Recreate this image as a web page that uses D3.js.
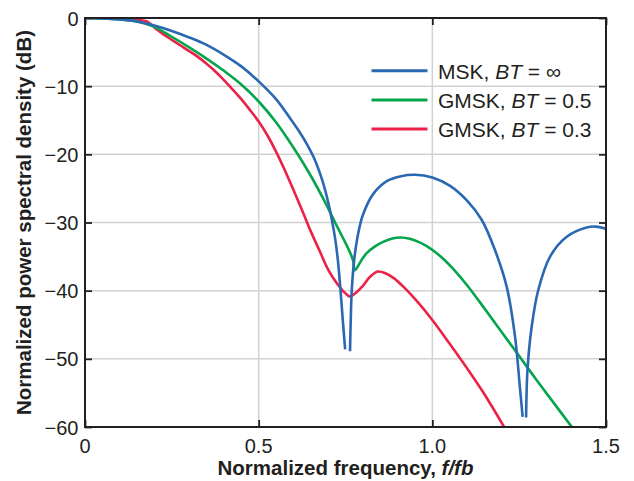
<!DOCTYPE html>
<head>
    <meta charset="UTF-8">
    <style>
    body {
        margin: 0;
        background: white;
    }

    text {
        font-family: "Liberation Sans", Arial, Helvetica, sans-serif;
        fill: #231f20;
    }

    .grid line {
        stroke: #d2d2d2;
        stroke-width: 1.5;
    }

    .curve {
        fill: none;
        stroke-width: 2.6;
    }
    </style>
</head>
<svg width="634" height="481"></svg>
<script src="https://d3js.org/d3.v7.min.js"></script>
<script>
// values (f/fb, dB); null = null of the spectrum
var mskF = [0, 0.05, 0.1, 0.15, 0.2, 0.25, 0.3, 0.35, 0.4, 0.45, 0.5, 0.55, 0.6, 0.62, 0.64, 0.66, 0.68, 0.69, 0.7, 0.71, 0.72, 0.728, 0.735, 0.742, 0.749,
    0.756, 0.763, 0.765, 0.768, 0.775, 0.785, 0.8, 0.83, 0.87, 0.91, 0.95, 1.0, 1.05, 1.1, 1.142, 1.18, 1.214, 1.238, 1.252, 1.26,
    1.265, 1.27, 1.274, 1.286, 1.305, 1.339, 1.387, 1.444, 1.47, 1.5];
var mskDb = [0, -0.05, -0.2, -0.5, -1.1, -1.9, -2.85, -3.95, -5.4, -7.1, -9.3, -11.9, -15.4, -16.9, -18.6, -20.6, -23.3, -25.0, -27.0, -29.4, -32.3, -35.5, -39.5, -44.2, -48.6,
    null, -48.9, -44.5, -40, -35.5, -32, -28.9, -25.8, -23.9, -23.2, -23.0, -23.4, -24.6, -26.8, -29.6, -34, -39.4, -46.7, -54.1, -58.5,
    null, -58.6, -51.6, -45.3, -39.9, -35, -32.1, -30.75, -30.6, -30.9];

var gmsk5F = [0, 0.05, 0.1, 0.15, 0.2, 0.25, 0.3, 0.35, 0.4, 0.45, 0.5, 0.55, 0.6, 0.645, 0.69, 0.72, 0.745, 0.763, 0.772, 0.777,
    0.795, 0.811, 0.835, 0.86, 0.885, 0.91, 0.935, 0.96, 0.985, 1.01, 1.035, 1.06, 1.1, 1.15, 1.2, 1.25, 1.3, 1.35, 1.406];
var gmsk5Db = [0, -0.05, -0.2, -0.5, -1.3, -2.75, -4.3, -5.95, -7.75, -9.75, -12.25, -15.3, -19.0, -22.7, -26.9, -30.0, -32.5, -34.4, -35.6, -37.0,
    -35.6, -34.5, -33.5, -32.8, -32.35, -32.2, -32.4, -32.85, -33.5, -34.4, -35.5, -36.8, -39.2, -42.6, -46.1, -49.6, -53.1, -56.5, -60.3];

var gmsk3F = [0, 0.05, 0.1, 0.15, 0.178, 0.207, 0.226, 0.25, 0.274, 0.3, 0.322, 0.35, 0.37, 0.4, 0.42, 0.45, 0.475, 0.5, 0.525, 0.55,
    0.575, 0.6, 0.625, 0.65, 0.675, 0.7, 0.725, 0.75, 0.763, 0.78, 0.8, 0.82, 0.843, 0.865, 0.89, 0.92, 0.955, 1.0, 1.05, 1.1, 1.15, 1.209];
var gmsk3Db = [0, 0, -0.1, -0.3, -0.5, -1.7, -2.4, -3.2, -4.0, -4.85, -5.6, -6.7, -7.6, -9.1, -10.2, -11.9, -13.5, -15.2, -17.2, -19.6,
    -22.3, -25.2, -28.2, -31.3, -34.1, -36.9, -38.9, -40.4, -40.85, -40.3, -39.3, -38.0, -37.2, -37.45, -38.2, -39.6, -41.5, -44.3, -47.8, -51.4, -55.2, -60.2];

var xTicks = [0, 0.5, 1.0, 1.5];
var xTickLabels = ["0", "0.5", "1.0", "1.5"];
var yTicks = [0, -10, -20, -30, -40, -50, -60];
var yTickLabels = ["0", "\u221210", "\u221220", "\u221230", "\u221240", "\u221250", "\u221260"];

var series = [
    { name: "MSK, ", bt: "\u221e", color: "#2b68b3", f: mskF, db: mskDb },
    { name: "GMSK, ", bt: "0.5", color: "#05a54d", f: gmsk5F, db: gmsk5Db },
    { name: "GMSK, ", bt: "0.3", color: "#ec2148", f: gmsk3F, db: gmsk3Db }
];

var svg = d3.select("svg");
var pLeft = 85, pRight = 606, pTop = 18, pBottom = 427;

var x = d3.scaleLinear().domain([0, 1.5]).range([pLeft, pRight]);
var y = d3.scaleLinear().domain([-60, 0]).range([pBottom, pTop]);

// grid
var grid = svg.append("g").attr("class", "grid");
grid.selectAll(".vx")
    .data(xTicks.slice(1, -1))
    .enter().append("line")
    .attr("x1", function(d) { return x(d); })
    .attr("x2", function(d) { return x(d); })
    .attr("y1", pTop)
    .attr("y2", pBottom);
grid.selectAll(".hy")
    .data(yTicks.slice(1, -1))
    .enter().append("line")
    .attr("y1", function(d) { return y(d); })
    .attr("y2", function(d) { return y(d); })
    .attr("x1", pLeft)
    .attr("x2", pRight);

// inward ticks on all four sides
var tickLen = 7;
var axes = svg.append("g");
axes.append("g").attr("transform", "translate(0," + pBottom + ")")
    .call(d3.axisBottom(x).tickValues(xTicks).tickSize(-tickLen).tickFormat(""));
axes.append("g").attr("transform", "translate(0," + pTop + ")")
    .call(d3.axisTop(x).tickValues(xTicks).tickSize(-tickLen).tickFormat(""));
axes.append("g").attr("transform", "translate(" + pLeft + ",0)")
    .call(d3.axisLeft(y).tickValues(yTicks).tickSize(-tickLen).tickFormat(""));
axes.append("g").attr("transform", "translate(" + pRight + ",0)")
    .call(d3.axisRight(y).tickValues(yTicks).tickSize(-tickLen).tickFormat(""));
axes.selectAll(".domain").remove();
axes.selectAll(".tick line").attr("stroke", "#231f20").attr("stroke-width", 1.8);

// curves
svg.append("clipPath").attr("id", "clip")
    .append("rect")
    .attr("x", pLeft).attr("y", pTop)
    .attr("width", pRight - pLeft).attr("height", pBottom - pTop);

var line = d3.line()
    .defined(function(d) { return d[1] != null; })
    .x(function(d) { return x(d[0]); })
    .y(function(d) { return y(d[1]); })
    .curve(d3.curveCatmullRom.alpha(0.5));

svg.append("g").attr("clip-path", "url(#clip)")
    .selectAll("path")
    .data(series.slice().reverse())
    .enter().append("path")
    .attr("class", "curve")
    .attr("stroke", function(d) { return d.color; })
    .attr("d", function(d) {
        return line(d.f.map(function(f, i) { return [f, d.db[i]]; }));
    });

// frame
svg.append("rect")
    .attr("x", pLeft).attr("y", pTop)
    .attr("width", pRight - pLeft).attr("height", pBottom - pTop)
    .attr("fill", "none")
    .attr("stroke", "#231f20")
    .attr("stroke-width", 2);

// tick labels
svg.selectAll(".xl")
    .data(xTicks)
    .enter().append("text")
    .attr("x", function(d) { return x(d); })
    .attr("y", 453)
    .attr("text-anchor", "middle")
    .style("font-size", "20px")
    .text(function(d, i) { return xTickLabels[i]; });

svg.selectAll(".yl")
    .data(yTicks)
    .enter().append("text")
    .attr("x", 78.5)
    .attr("y", function(d) { return y(d) + 7.5; })
    .attr("text-anchor", "end")
    .style("font-size", "20px")
    .text(function(d, i) { return yTickLabels[i]; });

// axis titles
var xt = svg.append("text")
    .attr("x", (pLeft + pRight) / 2)
    .attr("y", 475)
    .attr("text-anchor", "middle")
    .style("font-size", "20.5px")
    .style("font-weight", "bold");
xt.append("tspan").text("Normalized frequency, ");
xt.append("tspan").style("font-style", "italic").text("f/fb");

svg.append("text")
    .attr("transform", "translate(31," + ((pTop + pBottom) / 2) + ") rotate(-90)")
    .attr("text-anchor", "middle")
    .style("font-size", "20.5px")
    .style("font-weight", "bold")
    .text("Normalized power spectral density (dB)");

// legend
var legend = svg.append("g");
series.forEach(function(s, i) {
    var ly = 70.7 + i * 29.2;
    legend.append("line")
        .attr("x1", 371.5).attr("x2", 427.5)
        .attr("y1", ly).attr("y2", ly)
        .attr("stroke", s.color)
        .attr("stroke-width", 3);
    var t = legend.append("text")
        .attr("x", 438)
        .attr("y", ly + 8)
        .style("font-size", "21px");
    t.append("tspan").text(s.name);
    t.append("tspan").style("font-style", "italic").text("BT");
    t.append("tspan").text(" = " + s.bt);
});
</script>
